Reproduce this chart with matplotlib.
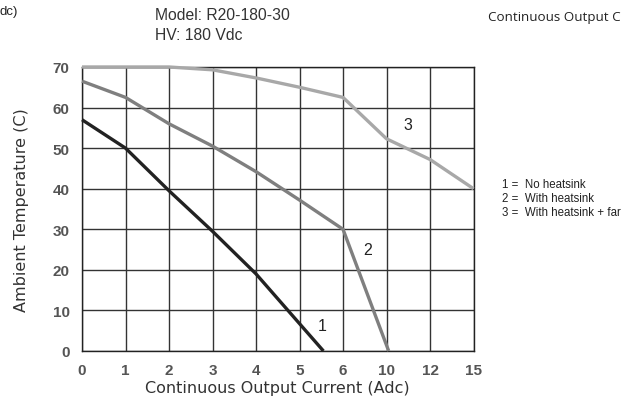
import numpy as np
import matplotlib
matplotlib.use("Agg")
import matplotlib.pyplot as plt

# tick values on the (non-linear) current axis
x_ticks = [0, 1, 2, 3, 4, 5, 6, 10, 12, 15]
y_ticks = [0, 10, 20, 30, 40, 50, 60, 70]

# derating curves
cur_1 = [0, 1, 2, 3, 4, 5.55]
temp_1 = [57, 50, 39.5, 29.5, 19, 0]

cur_2 = [0, 1, 2, 3, 4, 5, 6, 10.1]
temp_2 = [66.5, 62.5, 56, 50.5, 44.2, 37.2, 30, 0]

cur_3 = [0, 1, 2, 3, 4, 5, 6, 10, 12, 15]
temp_3 = [70, 70, 70, 69.3, 67.3, 65, 62.5, 52.3, 47.2, 40]

curve_labels = ["1", "2", "3"]
label_pos = [(5.52, 6.4), (8.3, 25.1), (11.0, 55.7)]
legend_lines = ["1 =  No heatsink", "2 =  With heatsink", "3 =  With heatsink + far"]

idx = np.arange(len(x_ticks))


def fwd(v):
    return np.interp(v, x_ticks, idx)


def inv(i):
    return np.interp(i, idx, x_ticks)


fig = plt.figure(figsize=(6.26, 4.14), dpi=100)
ax = fig.add_axes([0.131, 0.1498, 0.6254, 0.686])
ax.set_xscale("function", functions=(fwd, inv))

for xs, ys, c in [(cur_1, temp_1, "#222222"), (cur_2, temp_2, "#7f7f7f"), (cur_3, temp_3, "#a8a8a8")]:
    ax.plot(xs, ys, color=c, lw=2.4, solid_capstyle="butt", zorder=3, clip_on=False)

for t, (px, py) in zip(curve_labels, label_pos):
    ax.text(px, py, t, ha="center", va="center", fontsize=11.5,
            family="Liberation Sans", color="#222222")

ax.set_xlim(0, 15)
ax.set_ylim(0, 70)
ax.set_xticks(x_ticks)
ax.set_yticks(y_ticks)
ax.grid(True, color="#333333", lw=1)
ax.set_axisbelow(True)
for s in ax.spines.values():
    s.set_color("#222222")
    s.set_linewidth(1)
ax.tick_params(length=0, pad=9, labelsize=11, labelcolor="#555555")
for lab in ax.get_xticklabels() + ax.get_yticklabels():
    lab.set_fontweight("bold")
    lab.set_family("Liberation Sans")

ax.set_xlabel("Continuous Output Current (Adc)", fontsize=11.5, color="#333333", labelpad=2)
ax.set_ylabel("Ambient Temperature (C)", fontsize=11.5, color="#333333", labelpad=17)

fig.text(155 / 626, 1 - 15 / 414, "Model: R20-180-30", fontsize=11.3,
         family="Liberation Sans", color="#333333", va="center")
fig.text(155 / 626, 1 - 35 / 414, "HV: 180 Vdc", fontsize=11.3,
         family="Liberation Sans", color="#333333", va="center")
# header fragments, visible only partly in the original
fig.text(0, 1 - 12 / 414, "dc)", fontsize=9.5,
         family="Liberation Sans", color="#222222", va="center", ha="left")
fig.text(488 / 626, 1 - 18 / 414, "Continuous Output C", fontsize=9.6,
         family="Open Sans", color="#222222", va="center")
for k, t in enumerate(legend_lines):
    fig.text(502 / 626, 1 - (185 + 14 * k) / 414, t, fontsize=8.3,
             family="Liberation Sans", color="#222222", va="center")

fig.savefig("out.png", dpi=100)
